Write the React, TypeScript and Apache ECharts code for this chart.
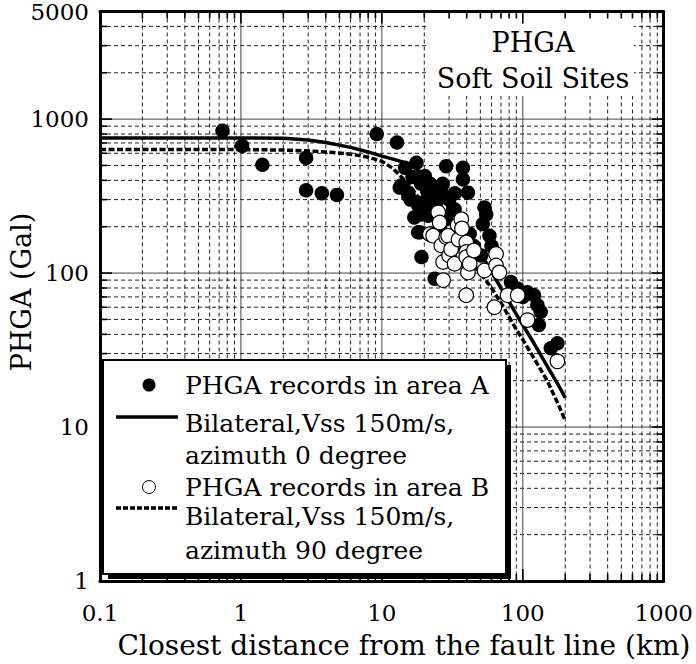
import React, { useEffect, useRef } from "react";
import * as echarts from "echarts";

// ---- data ----
const areaA: number[][] = [
  [0.74, 840], [1.02, 670], [1.42, 505], [2.9, 560], [2.9, 345], [3.75, 330], [4.8, 322],
  [9.2, 800], [12.8, 705], [13.4, 359], [13.7, 370], [14.6, 483], [15.4, 333], [15.4, 317],
  [16, 300], [16.5, 420], [17.6, 520], [17, 230], [18.1, 275], [18.1, 184], [18.6, 184],
  [19, 380], [19, 240], [19.1, 127], [20.2, 427], [20, 290], [21, 340], [21.3, 236],
  [22, 380], [22.3, 248], [23.7, 317], [23.7, 92], [24, 270], [25, 300], [26, 190],
  [26.4, 333], [27, 380], [28.6, 495], [28.6, 224], [30, 300], [30, 160], [31.9, 257],
  [32.8, 260], [33, 330], [35, 200], [37.6, 483], [37.6, 406], [40.8, 333], [42, 180],
  [45, 150], [50.6, 130], [52, 208], [53.5, 267], [55, 240], [58, 175], [60, 150],
  [82.4, 87.5], [85, 80], [92, 79], [100, 70], [108, 75], [120, 71.8], [127, 62],
  [134, 56], [130, 46], [158, 32.5], [176, 35],
];
const areaB: number[][] = [
  [21.9, 179], [23.1, 175], [25.1, 248], [25.7, 213], [26.4, 151], [27.2, 118], [27.2, 90],
  [28.6, 171], [29.5, 175], [30, 130], [31, 143], [32.8, 115], [34.5, 205], [35, 165],
  [36.6, 224], [37, 195], [39.7, 158], [39.7, 137], [39.7, 127], [40.8, 101], [39.7, 71.8],
  [42, 115], [45, 140], [53.5, 104], [64.6, 133], [64.6, 112], [68.2, 101], [62.9, 60],
  [78, 71.8], [92, 71.8], [108, 49.5], [176, 26.7],
];
const curveDist = [0.1, 1, 2, 3, 4, 6, 8, 10, 12, 14, 16, 18, 20, 25, 30, 40, 50, 60, 70, 80, 90, 100, 120, 150, 180, 200];
const az0 = [754, 754, 750, 732, 705, 655, 612, 575, 550, 528, 500, 468, 430, 345, 280, 190, 135, 102, 80, 65, 54, 46, 35, 24.6, 18.5, 15.5];
const az90 = [634, 634, 630, 622, 612, 592, 566, 532, 478, 415, 360, 315, 280, 215, 175, 128, 100, 80, 64, 52, 43, 37, 28, 19.8, 13.8, 11];

const xMajor = [1, 10, 100];
const xMinor = [0.2, 0.3, 0.4, 0.5, 0.6, 0.7, 0.8, 0.9, 2, 3, 4, 5, 6, 7, 8, 9, 20, 30, 40, 50, 60, 70, 80, 90, 200, 300, 400, 500, 600, 700, 800, 900];
const yMajor = [10, 100, 1000];
const yMinor = [2, 3, 4, 5, 6, 7, 8, 9, 20, 30, 40, 50, 60, 70, 80, 90, 200, 300, 400, 500, 600, 700, 800, 900, 2000, 3000, 4000];
const X_MIN = 0.1, X_MAX = 1000, Y_MIN = 1, Y_MAX = 5000;

const FONT = "DejaVu Serif";

export default function App() {
  const ref = useRef<HTMLDivElement>(null);
  useEffect(() => {
    if (!ref.current) return;
    const chart = echarts.init(ref.current, null, { renderer: "svg" });

    const gridRender = (_p: any, api: any) => {
      const [xl, yb] = api.coord([X_MIN, Y_MIN]);
      const [xr, yt] = api.coord([X_MAX, Y_MAX]);
      const ch: any[] = [];
      const dash = { stroke: "#222", lineWidth: 1, lineDash: [4, 3] };
      const solid = { stroke: "#444", lineWidth: 1 };
      xMinor.forEach((v) => {
        const x = api.coord([v, Y_MIN])[0];
        ch.push({ type: "line", shape: { x1: x, y1: yt, x2: x, y2: yb }, style: dash });
      });
      yMinor.forEach((v) => {
        const y = api.coord([X_MIN, v])[1];
        ch.push({ type: "line", shape: { x1: xl, y1: y, x2: xr, y2: y }, style: dash });
      });
      xMajor.forEach((v) => {
        const x = api.coord([v, Y_MIN])[0];
        ch.push({ type: "line", shape: { x1: x, y1: yt, x2: x, y2: yb }, style: solid });
      });
      yMajor.forEach((v) => {
        const y = api.coord([X_MIN, v])[1];
        ch.push({ type: "line", shape: { x1: xl, y1: y, x2: xr, y2: y }, style: solid });
      });
      return { type: "group", children: ch };
    };

    const tickRender = (_p: any, api: any) => {
      const [xl, yb] = api.coord([X_MIN, Y_MIN]);
      const [xr, yt] = api.coord([X_MAX, Y_MAX]);
      const ch: any[] = [];
      const st = { stroke: "#000", lineWidth: 1.6 };
      const addX = (v: number, len: number) => {
        const x = api.coord([v, Y_MIN])[0];
        ch.push({ type: "line", shape: { x1: x, y1: yb, x2: x, y2: yb - len }, style: st });
        ch.push({ type: "line", shape: { x1: x, y1: yt, x2: x, y2: yt + len }, style: st });
      };
      const addY = (v: number, len: number) => {
        const y = api.coord([X_MIN, v])[1];
        ch.push({ type: "line", shape: { x1: xl, y1: y, x2: xl + len, y2: y }, style: st });
        ch.push({ type: "line", shape: { x1: xr, y1: y, x2: xr - len, y2: y }, style: st });
      };
      xMajor.forEach((v) => addX(v, 12));
      xMinor.forEach((v) => addX(v, 7));
      yMajor.forEach((v) => addY(v, 12));
      yMinor.forEach((v) => addY(v, 7));
      return { type: "group", children: ch };
    };

    const fmt = (v: number) => String(Number(Number(v).toPrecision(6)));
    const axisLine = { show: true, onZero: false, lineStyle: { color: "#000", width: 3 } };
    const baseX = { type: "log", logBase: 10, min: X_MIN, max: X_MAX, axisTick: { show: false }, splitLine: { show: false }, axisLine, z: 10 };
    const baseY = { type: "log", logBase: 10, min: Y_MIN, max: Y_MAX, axisTick: { show: false }, splitLine: { show: false }, axisLine, z: 10 };

    const legendText = (text: string, y: number) => ({
      type: "text", x: 185, y, z: 22,
      style: { text, fontFamily: FONT, fontSize: 25, fill: "#000", align: "left", verticalAlign: "middle" },
    });

    chart.setOption({
      animation: false,
      backgroundColor: "#fff",
      grid: { left: 100, right: 29, top: 7, bottom: 83 },
      xAxis: [
        { ...baseX, position: "bottom", axisLabel: { fontFamily: FONT, fontSize: 23, color: "#000", margin: 20, formatter: fmt } },
        { ...baseX, position: "top", axisLabel: { show: false } },
      ],
      yAxis: [
        { ...baseY, position: "left", axisLabel: { fontFamily: FONT, fontSize: 23, color: "#000", margin: 11, formatter: fmt } },
        { ...baseY, position: "right", axisLabel: { show: false } },
      ],
      series: [
        { type: "custom", z: 1, silent: true, renderItem: gridRender, data: [[1, 10]] },
        {
          type: "line", z: 2, data: curveDist.map((d, i) => [d, az0[i]]), showSymbol: false,
          lineStyle: { color: "#000", width: 3.5 },
        },
        {
          type: "line", z: 2, data: curveDist.map((d, i) => [d, az90[i]]), showSymbol: false,
          lineStyle: { color: "#000", width: 3.5, type: [6, 2.5] },
        },
        {
          type: "scatter", z: 3, data: areaA, symbol: "circle", symbolSize: 14.5,
          itemStyle: { color: "#000", opacity: 1 },
        },
        {
          type: "scatter", z: 4, data: areaB, symbol: "circle", symbolSize: 14.5,
          itemStyle: { color: "#fff", borderColor: "#000", borderWidth: 1.2, opacity: 1 },
        },
        { type: "custom", z: 6, silent: true, renderItem: tickRender, data: [[1, 10]] },
      ],
      graphic: [
        // title box
        { type: "rect", z: 5, shape: { x: 428, y: 9, width: 206, height: 87 }, style: { fill: "#fff" } },
        { type: "text", z: 7, x: 533, y: 42, style: { text: "PHGA", fontFamily: FONT, fontSize: 27, fill: "#000", align: "center", verticalAlign: "middle" } },
        { type: "text", z: 7, x: 533, y: 78, style: { text: "Soft Soil Sites", fontFamily: FONT, fontSize: 27, fill: "#000", align: "center", verticalAlign: "middle" } },
        // axis titles
        { type: "text", z: 7, x: 404, y: 645, style: { text: "Closest distance from the fault line (km)", fontFamily: FONT, fontSize: 28, fill: "#000", align: "center", verticalAlign: "middle" } },
        { type: "text", z: 7, x: 21, y: 292, rotation: Math.PI / 2, style: { text: "PHGA (Gal)", fontFamily: FONT, fontSize: 27, fill: "#000", align: "center", verticalAlign: "middle" } },
        // legend box
        { type: "rect", z: 20, shape: { x: 108, y: 365, width: 403, height: 214 }, style: { fill: "#000" } },
        { type: "rect", z: 21, shape: { x: 103, y: 360, width: 403, height: 214 }, style: { fill: "#fff", stroke: "#000", lineWidth: 2 } },
        { type: "circle", z: 22, shape: { cx: 149, cy: 385, r: 6.5 }, style: { fill: "#000" } },
        legendText("PHGA records in area A", 385),
        { type: "line", z: 22, shape: { x1: 116, y1: 417, x2: 178, y2: 417 }, style: { stroke: "#000", lineWidth: 3.5 } },
        legendText("Bilateral,Vss 150m/s,", 423),
        legendText("azimuth 0 degree", 455),
        { type: "circle", z: 22, shape: { cx: 149, cy: 487, r: 6.5 }, style: { fill: "#fff", stroke: "#000", lineWidth: 1 } },
        legendText("PHGA records in area B", 487),
        { type: "line", z: 22, shape: { x1: 116, y1: 508, x2: 178, y2: 508 }, style: { stroke: "#000", lineWidth: 3.5, lineDash: [5, 2] } },
        legendText("Bilateral,Vss 150m/s,", 516),
        legendText("azimuth 90 degree", 550),
      ],
    });
    return () => chart.dispose();
  }, []);
  return <div ref={ref} style={{ position: "fixed", left: 0, top: 0, width: 696, height: 664 }} />;
}
